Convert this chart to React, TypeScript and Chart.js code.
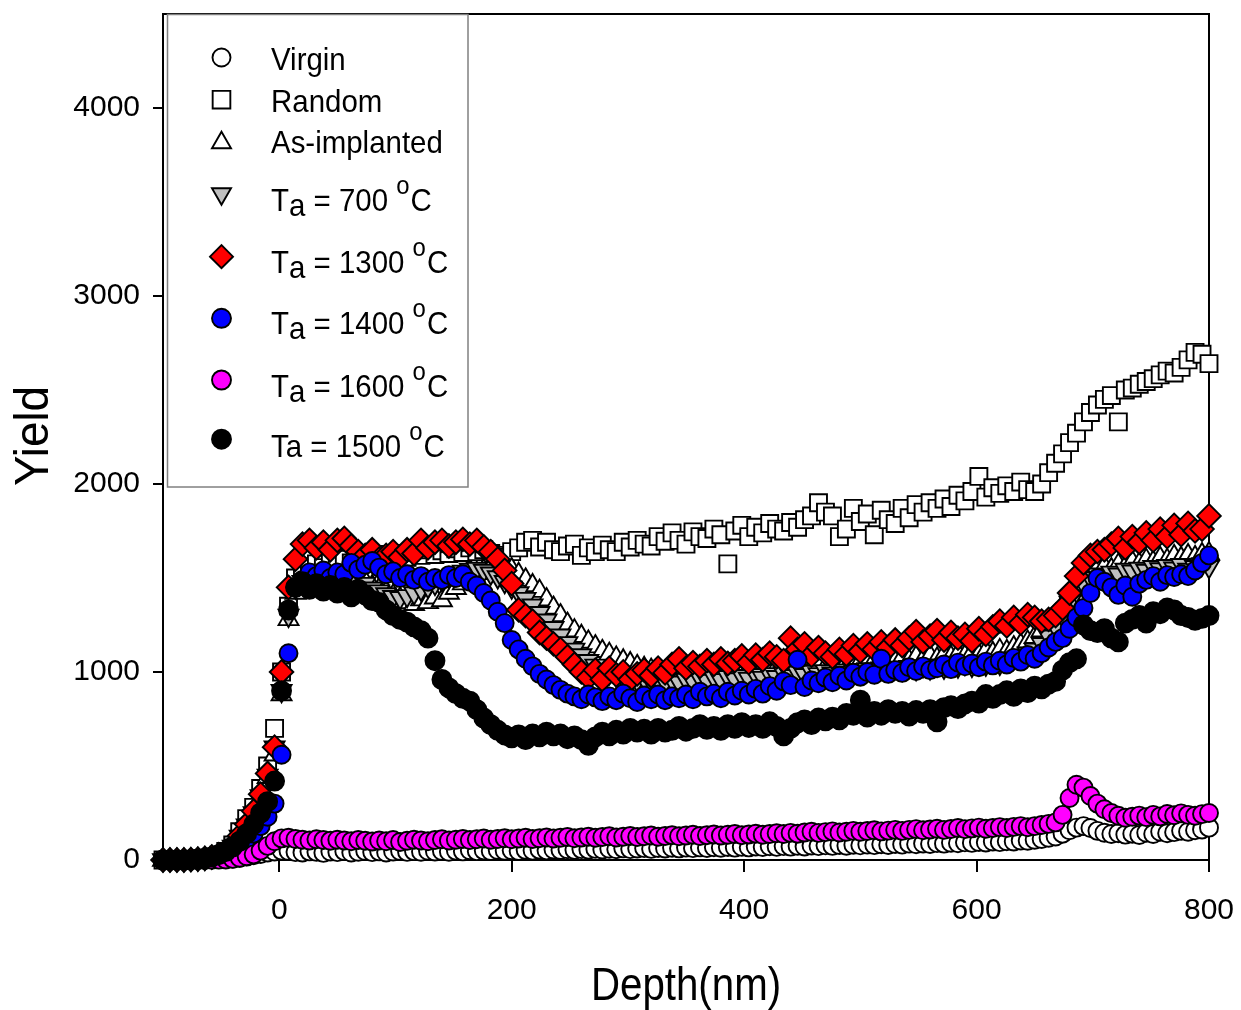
import React, { useEffect, useRef } from 'react';
import { Chart, registerables } from 'chart.js';

Chart.register(...registerables);

const FONT = "'Liberation Sans', Arial, Helvetica, sans-serif";

// Depth (nm) sampling positions
const depth = [
  -100, -94, -88, -82, -76, -70, -64, -58, -52, -46,
  -40, -34, -28, -22, -16, -10, -4, 2, 8, 14,
  20, 26, 32, 38, 44, 50, 56, 62, 68, 74,
  80, 86, 92, 98, 104, 110, 116, 122, 128, 134,
  140, 146, 152, 158, 164, 170, 176, 182, 188, 194,
  200, 206, 212, 218, 224, 230, 236, 242, 248, 254,
  260, 266, 272, 278, 284, 290, 296, 302, 308, 314,
  320, 326, 332, 338, 344, 350, 356, 362, 368, 374,
  380, 386, 392, 398, 404, 410, 416, 422, 428, 434,
  440, 446, 452, 458, 464, 470, 476, 482, 488, 494,
  500, 506, 512, 518, 524, 530, 536, 542, 548, 554,
  560, 566, 572, 578, 584, 590, 596, 602, 608, 614,
  620, 626, 632, 638, 644, 650, 656, 662, 668, 674,
  680, 686, 692, 698, 704, 710, 716, 722, 728, 734,
  740, 746, 752, 758, 764, 770, 776, 782, 788, 794,
  800,
];

const virgin = [
  0, 0, 0, 0, 1, 2, 3, 4, 5, 6,
  8, 12, 18, 25, 32, 40, 45, 50, 48, 42,
  40, 46, 43, 38, 45, 42, 47, 40, 44, 48,
  42, 46, 40, 45, 48, 43, 47, 44, 49, 45,
  48, 44, 50, 46, 52, 47, 51, 48, 53, 49,
  52, 48, 54, 50, 55, 51, 56, 53, 57, 54,
  58, 55, 59, 56, 60, 57, 62, 58, 61, 63,
  59, 64, 61, 65, 62, 66, 63, 67, 64, 68,
  65, 69, 66, 70, 67, 72, 69, 73, 70, 74,
  71, 75, 72, 77, 74, 78, 75, 80, 76, 81,
  78, 82, 79, 84, 80, 85, 82, 87, 84, 88,
  85, 90, 87, 92, 89, 94, 91, 96, 93, 98,
  95, 100, 98, 104, 102, 108, 112, 118, 125, 140,
  158, 172, 180, 170, 155, 145, 138, 142, 135, 140,
  133, 145, 138, 150, 142, 148, 155, 150, 158, 162,
  172,
];

const random = [
  0, 0, 0, 0, 2, 4, 8, 15, 25, 45,
  80, 150, 220, 280, 380, 500, 700, 1000, 1350, 1500,
  1540, 1560, 1575, 1555, 1590, 1570, 1600, 1580, 1610, 1590,
  1615, 1595, 1625, 1605, 1630, 1610, 1640, 1620, 1650, 1625,
  1645, 1630, 1655, 1635, 1660, 1640, 1650, 1630, 1620, 1610,
  1640, 1660, 1690, 1700, 1665, 1690, 1650, 1640, 1670, 1680,
  1620, 1660, 1640, 1675, 1650, 1640, 1690, 1665, 1700, 1680,
  1670, 1720, 1695, 1740, 1700, 1680, 1745, 1720, 1710, 1760,
  1730, 1575, 1750, 1780, 1720, 1770, 1740, 1790, 1760, 1750,
  1795, 1770, 1810, 1830, 1900, 1850, 1830, 1720, 1760, 1870,
  1800, 1840, 1730, 1860, 1810, 1790, 1870, 1820, 1890, 1850,
  1900, 1870, 1920, 1880, 1940, 1910, 1960, 2040, 1930, 1980,
  1950, 1990, 1960, 2010, 1970, 1960, 2000, 2060, 2110, 2160,
  2220, 2270, 2330, 2380, 2420, 2450, 2470, 2330, 2500, 2510,
  2530, 2545, 2560, 2580, 2600, 2590, 2620, 2660, 2700, 2690,
  2640,
];

const asImplanted = [
  0, 0, 0, 0, 2, 4, 8, 14, 24, 40,
  70, 120, 180, 240, 330, 440, 560, 880, 1280, 1420,
  1460, 1480, 1495, 1470, 1490, 1500, 1475, 1490, 1465, 1480,
  1455, 1440, 1425, 1405, 1390, 1370, 1360, 1385, 1370, 1395,
  1380, 1420, 1445, 1470, 1500, 1525, 1540, 1555, 1560, 1550,
  1545, 1520, 1490, 1460, 1430, 1385, 1340, 1300, 1255, 1220,
  1190, 1160, 1135, 1110, 1095, 1075, 1060, 1045, 1030, 1020,
  1010, 995, 1000, 985, 995, 980, 1000, 990, 1005, 985,
  1000, 990, 1010, 995, 1015, 1000, 1020, 1005, 1025, 1010,
  1030, 1015, 1035, 1020, 1040, 1025, 1045, 1030, 1050, 1040,
  1055, 1045, 1060, 1050, 1070, 1055, 1075, 1060, 1080, 1065,
  1085, 1070, 1090, 1080, 1095, 1085, 1100, 1090, 1110, 1100,
  1115, 1110, 1130, 1145, 1160, 1185, 1220, 1260, 1300, 1350,
  1410, 1460, 1500, 1530, 1550, 1560, 1545, 1570, 1560, 1585,
  1575, 1595, 1585, 1605, 1595, 1615, 1605, 1620, 1610, 1625,
  1630,
];

const ta700 = [
  0, 0, 0, 0, 2, 4, 8, 15, 25, 42,
  72, 125, 185, 250, 340, 450, 600, 900, 1300, 1450,
  1480, 1500, 1470, 1495, 1465, 1485, 1455, 1480, 1450, 1470,
  1445, 1430, 1415, 1400, 1395, 1405, 1420, 1440, 1455, 1470,
  1490, 1505, 1520, 1535, 1545, 1550, 1540, 1525, 1505, 1480,
  1450, 1420, 1390, 1355, 1315, 1275, 1235, 1195, 1155, 1120,
  1090, 1060, 1035, 1010, 995, 980, 970, 962, 955, 965,
  950, 962, 948, 958, 945, 960, 950, 968, 955, 972,
  958, 975, 962, 980, 965, 985, 970, 990, 975, 995,
  980, 998, 985, 1002, 990, 1006, 994, 1010, 998, 1012,
  1000, 1016, 1004, 1020, 1008, 1024, 1012, 1028, 1016, 1032,
  1020, 1036, 1024, 1040, 1030, 1044, 1034, 1050, 1040, 1055,
  1045, 1062, 1072, 1085, 1100, 1120, 1150, 1190, 1240, 1300,
  1370, 1430, 1470, 1500, 1520, 1510, 1530, 1520, 1545, 1535,
  1550, 1540, 1560, 1548, 1565, 1552, 1570, 1545, 1560, 1575,
  1560,
];

const ta1300 = [
  0, 0, 0, 0, 2, 5, 9, 16, 28, 46,
  78, 130, 190, 260, 350, 460, 600, 1000, 1450, 1600,
  1680, 1700, 1660, 1690, 1650, 1700, 1710, 1670, 1640, 1620,
  1650, 1600, 1620, 1640, 1610, 1650, 1630, 1700, 1660, 1690,
  1700, 1670, 1690, 1705, 1680, 1700, 1665, 1640, 1600, 1540,
  1470, 1330, 1300, 1270, 1210, 1180, 1150, 1120, 1080, 1040,
  1000, 970, 1010, 960, 1020, 985, 1000, 960, 990, 1010,
  980, 1020, 995, 1040, 1070, 1020, 1050, 1030, 1060, 1040,
  1070, 1045, 1060, 1085, 1050, 1090, 1065, 1100, 1080, 1060,
  1180, 1120, 1150, 1090, 1130, 1100, 1080, 1120, 1095, 1140,
  1110, 1150, 1120, 1160, 1130, 1170, 1140, 1180, 1215, 1160,
  1190, 1220, 1170, 1210, 1180, 1200, 1165, 1230, 1200, 1240,
  1270, 1245, 1290, 1260, 1305, 1290, 1270, 1280, 1300, 1340,
  1420, 1510, 1580, 1620, 1640, 1650, 1680, 1710, 1660, 1720,
  1690, 1740, 1700, 1760, 1720, 1780, 1730, 1790, 1750, 1760,
  1830,
];

const ta1400 = [
  0, 0, 0, 0, 2, 4, 8, 14, 22, 35,
  55, 80, 110, 140, 180, 230, 300, 560, 1100, 1450,
  1490, 1530, 1510, 1540, 1500, 1530, 1520, 1580, 1545, 1570,
  1590, 1555, 1520, 1535, 1500, 1520, 1490, 1510, 1480, 1500,
  1490, 1515, 1500, 1520, 1480, 1460, 1420, 1380, 1320, 1260,
  1170, 1120, 1070, 1030, 990, 960, 930, 905, 885, 870,
  855, 880, 865, 845, 870, 850, 885, 860, 840, 875,
  855, 880, 850, 870, 860, 880, 855, 895, 870, 885,
  860, 895, 875, 900, 880, 910, 885, 925, 900, 950,
  930, 1065, 920, 955, 940, 970, 945, 980, 955, 995,
  975, 1000, 985, 1070, 990, 1010, 995, 1025, 1005, 1030,
  1010, 1020, 1040, 1015, 1050, 1030, 1045, 1025, 1055, 1035,
  1060, 1040, 1075, 1055, 1090, 1070, 1100, 1130, 1160, 1180,
  1230, 1290, 1340, 1420, 1500, 1480, 1450, 1410, 1460, 1400,
  1470, 1490, 1510, 1480, 1515, 1505, 1520, 1510, 1540, 1580,
  1620,
];

const ta1600 = [
  0, 0, 0, 0, 0, 0, 0, 1, 2, 3,
  6, 12, 20, 30, 50, 75, 100, 115, 118, 112,
  108, 104, 110, 106, 102, 108, 104, 100, 106, 102,
  98, 104, 100, 106, 96, 102, 108, 104, 100, 106,
  110, 104, 108, 112, 106, 110, 114, 108, 112, 116,
  110, 114, 118, 112, 116, 120, 114, 118, 122, 116,
  120, 124, 118, 122, 126, 120, 124, 128, 122, 126,
  130, 124, 128, 132, 126, 130, 134, 128, 132, 136,
  130, 134, 138, 132, 136, 140, 134, 138, 142, 138,
  144, 140, 146, 150, 144, 148, 152, 146, 150, 155,
  150, 154, 158, 152, 156, 160, 155, 160, 164, 158,
  162, 166, 160, 165, 170, 164, 168, 172, 166, 170,
  175, 170, 176, 180, 174, 180, 186, 192, 200, 240,
  330, 400, 385, 340, 300, 270, 250, 235, 225, 230,
  236, 228, 240, 232, 245, 238, 248, 240, 235, 244,
  250,
];

const ta1500 = [
  0, 0, 0, 0, 2, 5, 9, 16, 28, 45,
  70, 100, 140, 190, 250, 310, 420, 900, 1330, 1450,
  1480, 1440, 1470, 1430, 1460, 1420, 1450, 1400, 1440, 1410,
  1380, 1370, 1330, 1300, 1280, 1265, 1240, 1220, 1180, 1060,
  960, 915, 885, 860, 845, 800, 755, 720, 690, 665,
  650, 665, 640, 670, 655, 680, 660, 670, 645, 660,
  640, 610, 655, 680, 660, 690, 670, 700, 680, 695,
  670, 700, 680, 690, 710, 685, 700, 720, 695, 710,
  690, 720, 700, 730, 705, 720, 700, 735, 710, 660,
  700, 730, 745, 720, 755, 740, 760, 745, 780, 770,
  850, 760, 790, 770, 800, 780, 790, 765, 795, 780,
  800, 735, 810, 820, 805, 830, 845, 835, 880, 860,
  880, 900, 870, 910, 890, 925, 910, 935, 950, 1010,
  1050, 1070, 1250, 1220, 1210, 1230, 1180, 1160, 1260, 1280,
  1300, 1260, 1320, 1310, 1340, 1330, 1300, 1290, 1275, 1285,
  1300,
];

const xTicks = [0, 200, 400, 600, 800];
const yTicks = [0, 1000, 2000, 3000, 4000];

const seriesLabels = [
  'Virgin', 'Random', 'As-implanted',
  'Ta = 700 °C', 'Ta = 1300 °C', 'Ta = 1400 °C', 'Ta = 1600 °C', 'Ta = 1500 °C',
];
const seriesValues = [virgin, random, asImplanted, ta700, ta1300, ta1400, ta1600, ta1500];
const seriesStyles = ['circle', 'rect', 'triangle', 'invtriangle', 'rectRot', 'circle', 'circle', 'circle'];
const seriesFills = ['#ffffff', '#ffffff', '#ffffff', '#c0c0c0', '#ff0000', '#0000ff', '#ff00ff', '#000000'];
const legendTemps = ['', '', '', '700', '1300', '1400', '1600', '1500'];

const HS = 0.92;

function drawMarker(ctx: CanvasRenderingContext2D, kind: string, x: number, y: number, r: number) {
  ctx.beginPath();
  if (kind === 'circle') {
    ctx.arc(x, y, r, 0, Math.PI * 2);
  } else if (kind === 'rect') {
    const s = r * Math.SQRT1_2;
    ctx.rect(x - s, y - s, 2 * s, 2 * s);
  } else if (kind === 'triangle') {
    ctx.moveTo(x, y - r);
    ctx.lineTo(x + 0.866 * r, y + 0.5 * r);
    ctx.lineTo(x - 0.866 * r, y + 0.5 * r);
    ctx.closePath();
  } else if (kind === 'invtriangle') {
    ctx.moveTo(x, y + r);
    ctx.lineTo(x + 0.866 * r, y - 0.5 * r);
    ctx.lineTo(x - 0.866 * r, y - 0.5 * r);
    ctx.closePath();
  } else {
    ctx.moveTo(x - r, y);
    ctx.lineTo(x, y - r);
    ctx.lineTo(x + r, y);
    ctx.lineTo(x, y + r);
    ctx.closePath();
  }
  ctx.fill();
  ctx.stroke();
}

function drawParts(ctx: CanvasRenderingContext2D, x: number, y: number, parts: { t: string; size: number; dy: number; gap?: number }[], hs: number) {
  let cx = x;
  for (const p of parts) {
    ctx.font = `${p.size}px ${FONT}`;
    ctx.save();
    ctx.translate(cx, y + p.dy);
    ctx.scale(hs, 1);
    ctx.fillText(p.t, 0, 0);
    ctx.restore();
    cx += ctx.measureText(p.t).width * hs + (p.gap || 0);
  }
}

const decorPlugin = {
  id: 'decor',
  beforeDatasetsDraw(chart: any) {
    const { ctx, chartArea } = chart;
    ctx.save();
    ctx.strokeStyle = '#000';
    ctx.lineWidth = 2;
    ctx.beginPath();
    ctx.moveTo(chartArea.left - 1, chartArea.top);
    ctx.lineTo(chartArea.right, chartArea.top);
    ctx.lineTo(chartArea.right, chartArea.bottom);
    ctx.stroke();
    ctx.restore();
  },
  afterDraw(chart: any) {
    const ctx: CanvasRenderingContext2D = chart.ctx;
    ctx.save();
    // legend box
    ctx.fillStyle = '#fff';
    ctx.fillRect(167, 14, 301, 473);
    ctx.strokeStyle = '#808080';
    ctx.lineWidth = 1.5;
    ctx.strokeRect(167.5, 14.5, 300.5, 472.5);

    const markerY = [57.5, 99.7, 142.7, 193.8, 256.7, 318.3, 380, 439.2];
    const textY = [70, 112, 153, 210.5, 273, 333.5, 397, 457];
    const markerR = [9, 12.5, 11, 11, 11.5, 9.5, 9.5, 9.5];
    ctx.lineWidth = 1.9;
    ctx.strokeStyle = '#000';
    for (let i = 0; i < seriesLabels.length; i++) {
      ctx.fillStyle = seriesFills[i];
      drawMarker(ctx, seriesStyles[i], 221.5, markerY[i], markerR[i]);
    }
    ctx.fillStyle = '#000';
    ctx.textAlign = 'left';
    ctx.textBaseline = 'alphabetic';
    for (let i = 0; i < seriesLabels.length; i++) {
      const temp = legendTemps[i];
      if (!temp) {
        drawParts(ctx, 271, textY[i], [{ t: seriesLabels[i], size: 32, dy: 0 }], HS);
      } else if (i === seriesLabels.length - 1) {
        drawParts(ctx, 271, textY[i], [
          { t: 'Ta = ' + temp + ' ', size: 32, dy: 0 },
          { t: 'o', size: 26, dy: -17, gap: 1 },
          { t: 'C', size: 32, dy: 0 },
        ], HS);
      } else {
        drawParts(ctx, 271, textY[i], [
          { t: 'T', size: 32, dy: 0 },
          { t: 'a', size: 32, dy: 5 },
          { t: ' = ' + temp + ' ', size: 32, dy: 0 },
          { t: 'o', size: 26, dy: -17, gap: 1 },
          { t: 'C', size: 32, dy: 0 },
        ], HS);
      }
    }

    // axis titles
    ctx.fillStyle = '#000';
    ctx.textAlign = 'center';
    ctx.textBaseline = 'alphabetic';
    ctx.font = `46px ${FONT}`;
    ctx.save();
    ctx.translate(686, 1000);
    ctx.scale(0.875, 1);
    ctx.fillText('Depth(nm)', 0, 0);
    ctx.restore();

    ctx.font = `48px ${FONT}`;
    ctx.save();
    ctx.translate(48, 436);
    ctx.rotate(-Math.PI / 2);
    ctx.scale(0.955, 1);
    ctx.fillText('Yield', 0, 0);
    ctx.restore();
    ctx.restore();
  },
};

function buildDatasets() {
  return seriesLabels.map((label, i) => {
    const kind = seriesStyles[i];
    let pointStyle: string = kind;
    let rotation = 0;
    let radius = 9;
    if (i === 7) radius = 9.5;
    if (kind === 'rect') radius = 12;
    if (kind === 'triangle') { pointStyle = 'triangle'; radius = 11.5; }
    if (kind === 'invtriangle') { pointStyle = 'triangle'; rotation = 180; radius = 11.5; }
    if (kind === 'rectRot') radius = 11.8;
    return {
      label,
      data: depth.map((d, j) => ({ x: d, y: seriesValues[i][j] })),
      showLine: false,
      pointStyle,
      pointRotation: rotation,
      pointRadius: radius,
      pointHoverRadius: radius,
      pointBackgroundColor: seriesFills[i],
      pointBorderColor: '#000',
      pointBorderWidth: 1.9,
      clip: false as any,
      order: seriesLabels.length - 1 - i,
    };
  });
}

export default function App() {
  const ref = useRef<HTMLCanvasElement>(null);
  useEffect(() => {
    const canvas = ref.current;
    if (!canvas) return;
    const chart = new Chart(canvas, {
      type: 'scatter',
      data: { datasets: buildDatasets() as any },
      plugins: [decorPlugin],
      options: {
        responsive: false,
        animation: false,
        events: [],
        layout: { padding: { left: 0, right: 32, top: 10, bottom: 0 } },
        plugins: { legend: { display: false }, tooltip: { enabled: false } },
        scales: {
          x: {
            type: 'linear',
            position: 'bottom',
            min: -100,
            max: 800,
            afterBuildTicks: (ax: any) => { ax.ticks = xTicks.map((v) => ({ value: v })); },
            afterFit: (s: any) => { s.height = 150; s.paddingLeft = 0; s.paddingRight = 0; },
            ticks: {
              font: { family: FONT, size: 30 },
              color: '#000',
              padding: 21,
              maxRotation: 0,
              autoSkip: false,
              callback: (v: any) => String(v),
            },
            grid: { display: true, drawOnChartArea: false, drawTicks: true, tickLength: 12, color: '#000', lineWidth: 2 },
            border: { display: true, color: '#000', width: 2 },
          },
          y: {
            type: 'linear',
            position: 'left',
            min: 0,
            max: 4500,
            afterBuildTicks: (ax: any) => { ax.ticks = yTicks.map((v) => ({ value: v })); },
            afterFit: (s: any) => { s.width = 163; s.paddingTop = 0; s.paddingBottom = 0; },
            ticks: {
              font: { family: FONT, size: 30 },
              color: '#000',
              padding: 13,
              autoSkip: false,
              callback: (v: any) => String(v),
            },
            grid: { display: true, drawOnChartArea: false, drawTicks: true, tickLength: 10, color: '#000', lineWidth: 2 },
            border: { display: true, color: '#000', width: 2 },
          },
        },
      } as any,
    });
    return () => chart.destroy();
  }, []);

  return (
    <div style={{ position: 'absolute', left: 0, top: 0, width: 1241, height: 1010, background: '#fff' }}>
      <canvas ref={ref} width={1241} height={1010} style={{ display: 'block', width: 1241, height: 1010 }} />
    </div>
  );
}
